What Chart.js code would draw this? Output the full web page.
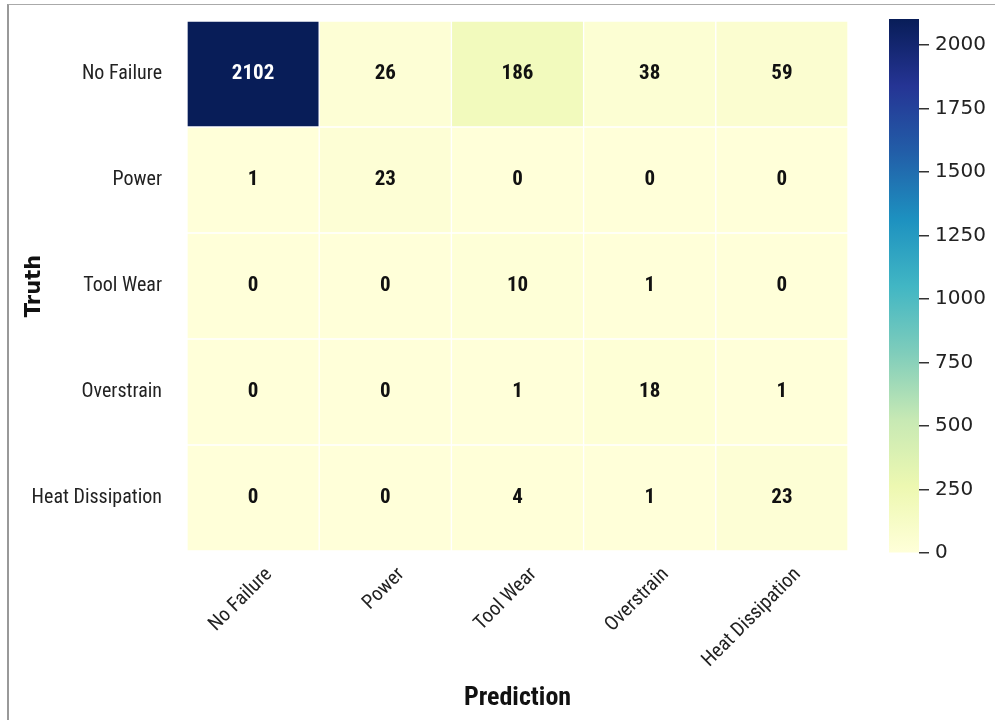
<!DOCTYPE html>
<html>
<head>
<meta charset="utf-8">
<script src="https://cdn.jsdelivr.net/npm/chart.js@4.4.1/dist/chart.umd.min.js"></script>
<style>
  body { margin: 0; background: #fff; }
  #wrap { position: relative; width: 995px; height: 720px; overflow: hidden; }
  #frame { position: absolute; left: 7px; top: 4px; right: 0; bottom: 0;
           border-left: 2px solid #999; border-top: 1px solid #aaa; }
  #heat { position: absolute; left: 0; top: 0; }
  #cbar { position: absolute; left: 860px; top: 0; }
</style>
</head>
<body>
<div id="wrap">
  <div id="frame"></div>
  <canvas id="heat" width="880" height="720"></canvas>
  <canvas id="cbar" width="135" height="720"></canvas>
</div>
<script>
const predLabels = ['No Failure', 'Power', 'Tool Wear', 'Overstrain', 'Heat Dissipation'];
const truthLabels = ['No Failure', 'Power', 'Tool Wear', 'Overstrain', 'Heat Dissipation'];
const noFailureRow = [2102, 26, 186, 38, 59];
const powerRow = [1, 23, 0, 0, 0];
const toolWearRow = [0, 0, 10, 1, 0];
const overstrainRow = [0, 0, 1, 18, 1];
const heatRow = [0, 0, 4, 1, 23];
const cbarTicks = [0, 250, 500, 750, 1000, 1250, 1500, 1750, 2000];

const matrix = [noFailureRow, powerRow, toolWearRow, overstrainRow, heatRow];
const vmax = Math.max(...matrix.flat());

// YlGnBu
const stops = ['#ffffd9', '#edf8b1', '#c7e9b4', '#7fcdbb', '#41b6c4', '#1d91c0', '#225ea8', '#253494', '#081d58'];
function hexToRgb(h) {
    return [parseInt(h.slice(1, 3), 16), parseInt(h.slice(3, 5), 16), parseInt(h.slice(5, 7), 16)];
}
function colorFor(v) {
    let t = Math.max(0, Math.min(1, v / vmax)) * (stops.length - 1);
    let i = Math.min(Math.floor(t), stops.length - 2);
    let f = t - i;
    let a = hexToRgb(stops[i]), b = hexToRgb(stops[i + 1]);
    let c = a.map((x, k) => Math.round(x + (b[k] - x) * f));
    return 'rgb(' + c.join(',') + ')';
}

const labelFont = "'Liberation Sans Narrow', 'Roboto Condensed', Roboto, sans-serif";

const cellText = {
    id: 'cellText',
    afterDatasetsDraw(chart) {
        const ctx = chart.ctx;
        ctx.save();
        ctx.font = 'bold 21px ' + labelFont;
        ctx.textAlign = 'center';
        ctx.textBaseline = 'middle';
        chart.data.datasets.forEach((ds, i) => {
            chart.getDatasetMeta(i).data.forEach((bar, j) => {
                const v = ds.counts[j];
                const p = bar.getCenterPoint();
                ctx.fillStyle = v > vmax / 2 ? '#ffffff' : '#111111';
                ctx.fillText(String(v), p.x, p.y);
            });
        });
        ctx.restore();
    }
};

new Chart(document.getElementById('heat'), {
    type: 'bar',
    data: {
        labels: predLabels,
        datasets: truthLabels.map((t, i) => ({
            label: t,
            data: predLabels.map(() => 1),
            counts: matrix[i],
            backgroundColor: matrix[i].map(colorFor),
            borderColor: 'rgba(255,255,255,0.9)',
            borderWidth: 1,
            borderSkipped: false,
            barPercentage: 1,
            categoryPercentage: 1,
            yAxisID: 'y'
        }))
    },
    options: {
        responsive: false,
        animation: false,
        layout: { padding: { top: 21, right: 32, bottom: 0, left: 0 } },
        plugins: { legend: { display: false }, tooltip: { enabled: false } },
        scales: {
            x: {
                stacked: true,
                grid: { display: false, drawTicks: false },
                border: { display: false },
                ticks: {
                    minRotation: 45, maxRotation: 45,
                    padding: 12, labelOffset: 16,
                    color: '#222',
                    font: { family: labelFont, size: 20 }
                },
                title: {
                    display: true, text: 'Prediction', color: '#111',
                    font: { family: labelFont, size: 26, weight: 'bold' },
                    padding: { top: 0, bottom: 6 }
                },
                afterFit(scale) { scale.height = 169; }
            },
            y: {
                stacked: true, min: 0, max: 5, reverse: true, display: false
            },
            yl: {
                type: 'category',
                position: 'left',
                labels: truthLabels,
                offset: true,
                grid: { display: false, drawTicks: false },
                border: { display: false },
                ticks: {
                    padding: 25, color: '#222',
                    font: { family: labelFont, size: 20 }
                },
                title: {
                    display: true, text: 'Truth', color: '#111',
                    font: { family: 'DejaVu Sans', size: 21, weight: 'bold' },
                    padding: { top: 22, bottom: 0 }
                },
                afterFit(scale) {
                    scale.width = 187;
                    scale.paddingTop = 0;
                    scale.paddingBottom = 0;
                }
            }
        }
    },
    plugins: [cellText]
});

new Chart(document.getElementById('cbar'), {
    type: 'bar',
    data: {
        labels: ['scale'],
        datasets: [{
            data: [vmax],
            barPercentage: 1,
            categoryPercentage: 1,
            backgroundColor(context) {
                const area = context.chart.chartArea;
                if (!area) return stops[0];
                const g = context.chart.ctx.createLinearGradient(0, area.bottom, 0, area.top);
                stops.forEach((c, k) => g.addColorStop(k / (stops.length - 1), c));
                return g;
            }
        }]
    },
    options: {
        responsive: false,
        animation: false,
        layout: { padding: { top: 19, bottom: 167, left: 29, right: 0 } },
        plugins: { legend: { display: false }, tooltip: { enabled: false } },
        scales: {
            x: { display: false },
            y: {
                position: 'right',
                min: 0, max: vmax,
                afterBuildTicks(scale) { scale.ticks = cbarTicks.map(v => ({ value: v })); },
                grid: { drawOnChartArea: false, drawTicks: true, tickLength: 10, color: '#333', lineWidth: 1.5 },
                border: { display: false },
                ticks: {
                    padding: 6, color: '#222',
                    font: { family: 'DejaVu Sans', size: 20 },
                    callback: v => String(v)
                },
                afterFit(scale) {
                    scale.width = 76;
                    scale.paddingTop = 0;
                    scale.paddingBottom = 0;
                }
            }
        }
    }
});
</script>
</body>
</html>
